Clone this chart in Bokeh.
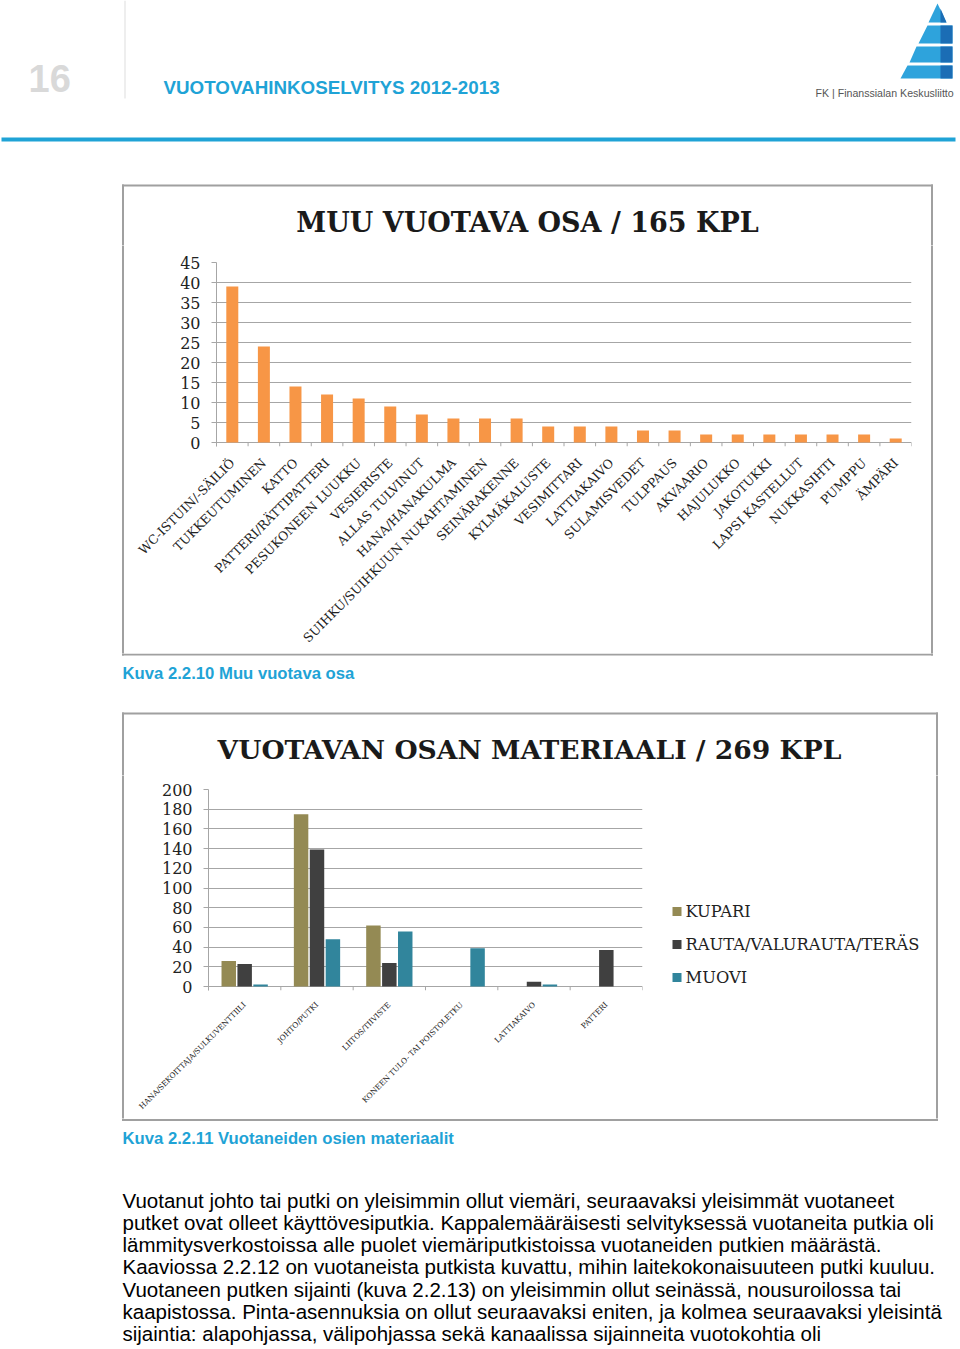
from math import pi
from bokeh.plotting import figure
from bokeh.models import Range1d, FactorRange, SingleIntervalTicker, ColumnDataSource
from bokeh.layouts import column, row
from bokeh.transform import dodge
from bokeh.embed import file_html
from bokeh.resources import INLINE
from bokeh.core.properties import value

# ---------------- data ----------------
leak_parts = ["WC-ISTUIN/-SÄILIÖ", "TUKKEUTUMINEN", "KATTO", "PATTERI/RÄTTIPATTERI",
              "PESUKONEEN LUUKKU", "VESIERISTE", "ALLAS TULVINUT", "HANA/HANAKULMA",
              "SUIHKU/SUIHKUUN NUKAHTAMINEN", "SEINÄRAKENNE", "KYLMÄKALUSTE", "VESIMITTARI",
              "LATTIAKAIVO", "SULAMISVEDET", "TULPPAUS", "AKVAARIO", "HAJULUKKO", "JAKOTUKKI",
              "LAPSI KASTELLUT", "NUKKASIHTI", "PUMPPU", "ÄMPÄRI"]
leak_counts = [39, 24, 14, 12, 11, 9, 7, 6, 6, 6, 4, 4, 4, 3, 3, 2, 2, 2, 2, 2, 2, 1]

mat_categories = ["HANA/SEKOITTAJA/SULKUVENTTIILI", "JOHTO/PUTKI", "LIITOS/TIIVISTE",
                  "KONEEN TULO- TAI POISTOLETKU", "LATTIAKAIVO", "PATTERI"]
kupari = [26, 175, 62, 0, 0, 0]
rauta = [23, 139, 24, 0, 5, 37]
muovi = [2, 48, 56, 39, 2, 0]
mat_series = ["KUPARI", "RAUTA/VALURAUTA/TERÄS", "MUOVI"]

title1 = "MUU VUOTAVA OSA / 165 KPL"
title2 = "VUOTAVAN OSAN MATERIAALI / 269 KPL"
page_no = "16"
report_title = "VUOTOVAHINKOSELVITYS 2012-2013"
logo_text = "FK | Finanssialan Keskusliitto"
caption1 = "Kuva 2.2.10 Muu vuotava osa"
caption2 = "Kuva 2.2.11 Vuotaneiden osien materiaalit"
body_lines = [
    "Vuotanut johto tai putki on yleisimmin ollut viemäri, seuraavaksi yleisimmät vuotaneet",
    "putket ovat olleet käyttövesiputkia. Kappalemääräisesti selvityksessä vuotaneita putkia oli",
    "lämmitysverkostoissa alle puolet viemäriputkistoissa vuotaneiden putkien määrästä.",
    "Kaaviossa 2.2.12 on vuotaneista putkista kuvattu, mihin laitekokonaisuuteen putki kuuluu.",
    "Vuotaneen putken sijainti (kuva 2.2.13) on yleisimmin ollut seinässä, nousuroilossa tai",
    "kaapistossa. Pinta-asennuksia on ollut seuraavaksi eniten, ja kolmea seuraavaksi yleisintä",
    "sijaintia: alapohjassa, välipohjassa sekä kanaalissa sijainneita vuotokohtia oli",
]

# ---------------- styles ----------------
ORANGE = "#F79646"
C_KUPARI = "#948A54"
C_RAUTA = "#404040"
C_MUOVI = "#31859C"
series_colors = [C_KUPARI, C_RAUTA, C_MUOVI]
GRID = "#a6a6a6"
BOX = "#a0a0a0"
BLUE = "#1fa3d6"
SERIF = value("DejaVu Serif")
SANS = value("Liberation Sans")
W = 956


def no_align(p):
    if hasattr(p, "frame_align"):
        p.frame_align = False
    return p


def page_fig(x0, x1, y0, y1):
    p = figure(width=x1 - x0, height=y1 - y0, x_range=Range1d(x0, x1), y_range=Range1d(y1, y0),
               min_border=0, toolbar_location=None, output_backend="svg",
               x_axis_location=None, y_axis_location=None, outline_line_color=None,
               background_fill_color="white", border_fill_color="white")
    p.grid.visible = False
    return no_align(p)


def vline(p, x, y0, y1):
    p.segment(x0=[x], y0=[y0], x1=[x], y1=[y1], line_color=BOX, line_width=2)


def hline(p, y, x0, x1):
    p.segment(x0=[x0], y0=[y], x1=[x1], y1=[y], line_color=BOX, line_width=2)


def style_axes(p, ticker, label_size, standoff):
    p.yaxis.ticker = ticker
    p.ygrid.ticker = ticker
    p.ygrid.grid_line_color = GRID
    p.xgrid.visible = False
    p.yaxis.axis_line_color = GRID
    p.yaxis.major_tick_line_color = GRID
    p.yaxis.major_tick_out = 5
    p.yaxis.major_tick_in = 0
    p.yaxis.minor_tick_line_color = None
    p.yaxis.major_label_standoff = 11
    p.yaxis.major_label_text_font = "DejaVu Serif"
    p.yaxis.major_label_text_font_size = "16px"
    p.yaxis.major_label_text_color = "#222222"
    p.xaxis.axis_line_color = None
    p.xaxis.major_tick_line_color = None
    p.xaxis.major_tick_out = 0
    p.xaxis.major_tick_in = 0
    p.xaxis.major_label_standoff = standoff
    p.xaxis.major_label_orientation = pi / 4
    p.xaxis.major_label_text_font = "DejaVu Serif"
    p.xaxis.major_label_text_font_size = label_size
    p.xaxis.major_label_text_color = "#222222"


# ---------------- header (incl. chart 1 title) ----------------
head = page_fig(0, W, 0, 245)
head.text(x=[28], y=[78], text=[page_no], text_font=SANS, text_font_style="bold",
          text_font_size="38px", text_color="#d9d9d9", text_baseline="alphabetic")
head.segment(x0=[124.5], y0=[0], x1=[124.5], y1=[98], line_color="#dddddd", line_width=1)
head.text(x=[163], y=[87], text=[report_title], text_font=SANS, text_font_style="bold",
          text_font_size="18.8px", text_color=BLUE, text_baseline="alphabetic")
head.patches(xs=[[937, 946, 928], [927, 952, 952, 918], [916, 952, 952, 909], [907, 952, 952, 900]],
             ys=[[3, 22, 22], [25, 25, 43, 43], [46, 46, 62, 62], [65, 65, 78, 78]],
             fill_color="#2ea3dc", line_color=None)
head.patches(xs=[[940, 946, 940], [940, 952, 952, 940], [940, 952, 952, 940], [940, 952, 952, 940]],
             ys=[[8, 22, 22], [25, 25, 43, 43], [46, 46, 62, 62], [65, 65, 78, 78]],
             fill_color="#1b6db5", line_color=None)
head.text(x=[815], y=[92], text=[logo_text], text_font=SANS, text_font_size="10.6px",
          text_color="#555555", text_baseline="alphabetic")
head.segment(x0=[1], y0=[139], x1=[955], y1=[139], line_color=BLUE, line_width=4)
hline(head, 185, 121.5, 932.5)
vline(head, 122.5, 184, 245)
vline(head, 931.5, 184, 245)
head.text(x=[527], y=[222], text=[title1], text_font=SERIF, text_font_style="bold",
          text_font_size="27px", text_color="#1a1a1a", text_align="center",
          text_baseline="alphabetic")

# ---------------- chart 1 ----------------
p1 = figure(width=806, height=408, x_range=FactorRange(*leak_parts), y_range=Range1d(-1, 45),
            min_border_left=92, min_border_right=19, min_border_top=17, min_border_bottom=202,
            toolbar_location=None, output_backend="svg", outline_line_color=None)
no_align(p1)
p1.vbar(x=leak_parts, top=leak_counts, width=0.38, fill_color=ORANGE, line_color=None)
bounds1 = list(range(len(leak_parts) + 1))
p1.segment(x0=bounds1, y0=[0] * len(bounds1), x1=bounds1, y1=[-1] * len(bounds1),
           line_color=GRID, line_width=1)
style_axes(p1, SingleIntervalTicker(interval=5, num_minor_ticks=0), "12.5px", 14)

left1 = page_fig(0, 124, 245, 653)
vline(left1, 122.5, 244, 654)
right1 = page_fig(930, W, 245, 653)
vline(right1, 931.5, 244, 654)

# ---------------- middle (caption 1, chart 2 title) ----------------
mid = page_fig(0, W, 653, 775)
hline(mid, 654, 121.5, 932.5)
vline(mid, 122.5, 652, 655)
vline(mid, 931.5, 652, 655)
mid.text(x=[122], y=[673], text=[caption1], text_font=SANS, text_font_style="bold",
         text_font_size="16.7px", text_color=BLUE, text_baseline="alphabetic")
hline(mid, 713, 121.5, 937.5)
vline(mid, 122.5, 712, 776)
vline(mid, 936.5, 712, 776)
mid.text(x=[529], y=[749], text=[title2], text_font=SERIF, text_font_style="bold",
         text_font_size="26.6px", text_color="#1a1a1a", text_align="center",
         text_baseline="alphabetic")

# ---------------- chart 2 ----------------
p2 = figure(width=536, height=343, x_range=FactorRange(*mat_categories), y_range=Range1d(-4, 200),
            min_border_left=84, min_border_right=18, min_border_top=14, min_border_bottom=128,
            toolbar_location=None, output_backend="svg", outline_line_color=None)
no_align(p2)
src = ColumnDataSource(dict(cat=mat_categories, kupari=kupari, rauta=rauta, muovi=muovi))
p2.vbar(x=dodge("cat", -0.22, range=p2.x_range), top="kupari", width=0.2, source=src,
        fill_color=C_KUPARI, line_color=None)
p2.vbar(x=dodge("cat", 0.0, range=p2.x_range), top="rauta", width=0.2, source=src,
        fill_color=C_RAUTA, line_color=None)
p2.vbar(x=dodge("cat", 0.22, range=p2.x_range), top="muovi", width=0.2, source=src,
        fill_color=C_MUOVI, line_color=None)
bounds2 = list(range(len(mat_categories) + 1))
p2.segment(x0=bounds2, y0=[0] * len(bounds2), x1=bounds2, y1=[-4] * len(bounds2),
           line_color=GRID, line_width=1)
style_axes(p2, SingleIntervalTicker(interval=20, num_minor_ticks=0), "7.5px", 13)

left2 = page_fig(0, 124, 775, 1118)
vline(left2, 122.5, 774, 1119)
right2 = page_fig(660, W, 775, 1118)
vline(right2, 936.5, 774, 1119)
# legend of chart 2
leg_y = [911, 944, 977]
right2.scatter(x=[676.5] * 3, y=leg_y, marker="square", size=9, fill_color=series_colors,
               line_color=None)
right2.text(x=[685] * 3, y=leg_y, text=mat_series, text_font=SERIF, text_font_size="16.3px",
            text_color="#222222", text_baseline="alphabetic")

# ---------------- bottom ----------------
bot = page_fig(0, W, 1118, 1348)
hline(bot, 1119.5, 121.5, 937.5)
vline(bot, 122.5, 1117, 1120.5)
vline(bot, 936.5, 1117, 1120.5)
bot.text(x=[122], y=[1138], text=[caption2], text_font=SANS, text_font_style="bold",
         text_font_size="16.7px", text_color=BLUE, text_baseline="alphabetic")
bot.text(x=[122] * len(body_lines), y=[1199.5 + 22.33 * i for i in range(len(body_lines))],
         text=body_lines, text_font=SANS, text_font_size="20.5px", text_color="#000000",
         text_baseline="alphabetic")

layout = column(head, row(left1, p1, right1), mid, row(left2, p2, right2), bot)
open("out.html", "w").write(file_html(layout, INLINE))
